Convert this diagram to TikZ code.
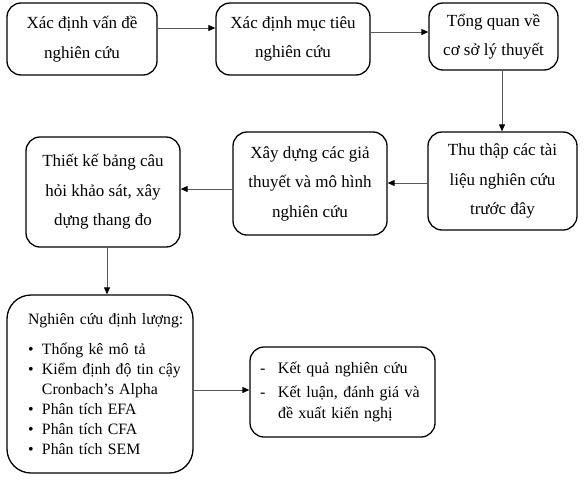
\documentclass[tikz,border=0pt]{standalone}
\usepackage{fontspec}
\setmainfont{Liberation Serif}
\usetikzlibrary{arrows.meta}
\newcommand{\lst}[1]{\hspace*{14pt}\makebox[14pt][l]{#1}}
\begin{document}
\begin{tikzpicture}[x=1pt,y=-1pt,
 box/.style={draw=black, line width=1.3pt, rounded corners=14pt, align=center, inner sep=0pt, font=\fontsize{17}{29.5}\selectfont},
 listbox/.style={box, align=left, inner xsep=7pt, font=\fontsize{15.8}{20}\selectfont},
 arr/.style={draw=gray!70!black, line width=0.9pt, -{Triangle[length=7pt,width=6pt,color=black]}}]
\useasboundingbox[fill=white] (0,0) rectangle (586,485);
\node[box, minimum width=150pt, minimum height=72pt] (b1) at (82,39) {Xác định vấn đề\\nghiên cứu};
\node[box, minimum width=154pt, minimum height=72pt] (b2) at (293,39) {Xác định mục tiêu\\nghiên cứu};
\node[box, minimum width=129pt, minimum height=67pt] (b3) at (493.5,36.5) {Tổng quan về\\cơ sở lý thuyết};
\node[box, minimum width=149pt, minimum height=98pt] (b4) at (502.5,181) {Thu thập các tài\\liệu nghiên cứu\\trước đây};
\node[box, minimum width=154pt, minimum height=103pt] (b5) at (310,183.5) {Xây dựng các giả\\thuyết và mô hình\\nghiên cứu};
\node[box, minimum width=154pt, minimum height=110pt] (b6) at (103,192) {Thiết kế bảng câu\\hỏi khảo sát, xây\\dựng thang đo};
\node[listbox, rounded corners=24pt, text width=172pt, minimum height=178pt] (b7) at (100,384)
 {\hspace*{14pt}Nghiên cứu định lượng:\\[10pt]
  \lst{•}Thống kê mô tả\\
  \lst{•}Kiểm định độ tin cậy\\
  \lst{}Cronbach’s Alpha\\
  \lst{•}Phân tích EFA\\
  \lst{•}Phân tích CFA\\
  \lst{•}Phân tích SEM};
\node[listbox, font=\fontsize{16}{20.5}\selectfont, text width=171pt, minimum height=90pt] (b8) at (342.5,392)
 {\hspace*{3pt}\makebox[18pt][l]{-}Kết quả nghiên cứu\\[3.5pt]
  \hspace*{3pt}\makebox[18pt][l]{-}Kết luận, đánh giá và\\
  \hspace*{3pt}\makebox[18pt][l]{}đề xuất kiến nghị};
\draw[arr] (b1.east |- 0,28) -- (b2.west |- 0,28);
\draw[arr] (b2.east |- 0,32) -- (b3.west |- 0,32);
\draw[arr] (b3.south -| 502,0) -- (b4.north -| 502,0);
\draw[arr] (b4.west |- 0,183) -- (b5.east |- 0,183);
\draw[arr] (b5.west |- 0,189) -- (b6.east |- 0,189);
\draw[arr] (b6.south -| 107,0) -- (b7.north -| 107,0);
\draw[arr] (b7.east |- 0,390) -- (b8.west |- 0,390);
\end{tikzpicture}
\end{document}
